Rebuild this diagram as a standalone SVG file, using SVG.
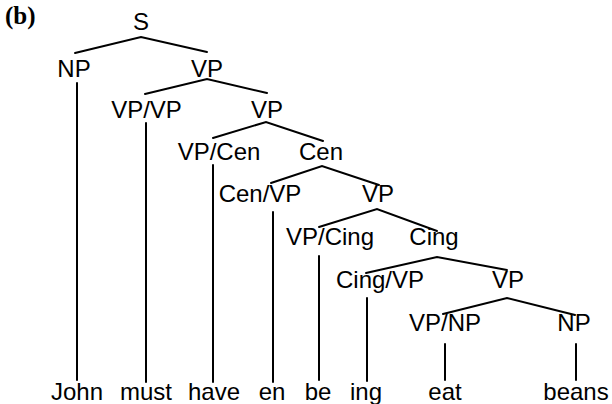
<svg xmlns="http://www.w3.org/2000/svg" width="612" height="404" viewBox="0 0 612 404">
  <style>
    .lbl { font-family: "Liberation Sans", Arial, sans-serif; font-size: 24px; fill: #000; text-anchor: middle; }
    .tag { font-family: "Liberation Serif", "Times New Roman", serif; font-size: 25px; font-weight: bold; fill: #000; }
    .edge { stroke: #000; stroke-width: 2; fill: none; stroke-linecap: round; }
  </style>
  <rect width="612" height="404" fill="#fff"/>
  <text class="tag" x="5" y="24">(b)</text>

  <!-- tree edges -->
  <g id="connectors">
    <polyline class="edge" points="75,53 141,37 207,52"/>
    <polyline class="edge" points="145,94 207,79 267,93"/>
    <polyline class="edge" points="213,138 266,122 323,141"/>
    <polyline class="edge" points="271,183 322,166 379,185"/>
    <polyline class="edge" points="319,227 377,209 437,231"/>
    <polyline class="edge" points="366,273 437,257 507,270"/>
    <polyline class="edge" points="443,314 507,298 575,315"/>
    <!-- stems down to the words -->
    <line class="edge" x1="77" y1="83" x2="77" y2="380"/>
    <line class="edge" x1="146" y1="123" x2="146" y2="382"/>
    <line class="edge" x1="213" y1="165" x2="213" y2="382"/>
    <line class="edge" x1="273" y1="212" x2="273" y2="382"/>
    <line class="edge" x1="319" y1="256" x2="319" y2="380"/>
    <line class="edge" x1="367" y1="298" x2="367" y2="381"/>
    <line class="edge" x1="445" y1="344" x2="445" y2="380"/>
    <line class="edge" x1="576" y1="344" x2="576" y2="380"/>
  </g>

  <g id="n-S"><text class="lbl" x="141" y="30">S</text></g>
  <g id="n-NP1"><text class="lbl" x="74" y="77">NP</text></g>
  <g id="n-VP1"><text class="lbl" x="207" y="77">VP</text></g>
  <g id="n-VPVP"><text class="lbl" x="146.5" y="118">VP/VP</text></g>
  <g id="n-VP2"><text class="lbl" x="267" y="118">VP</text></g>
  <g id="n-VPCen"><text class="lbl" x="219" y="160">VP/Cen</text></g>
  <g id="n-Cen"><text class="lbl" x="321" y="160">Cen</text></g>
  <g id="n-CenVP"><text class="lbl" x="260" y="202">Cen/VP</text></g>
  <g id="n-VP3"><text class="lbl" x="378" y="202">VP</text></g>
  <g id="n-VPCing"><text class="lbl" x="330" y="245">VP/Cing</text></g>
  <g id="n-Cing"><text class="lbl" x="434" y="245">Cing</text></g>
  <g id="n-CingVP"><text class="lbl" x="380" y="288">Cing/VP</text></g>
  <g id="n-VP4"><text class="lbl" x="508" y="288">VP</text></g>
  <g id="n-VPNP"><text class="lbl" x="445" y="331">VP/NP</text></g>
  <g id="n-NP2"><text class="lbl" x="574" y="331">NP</text></g>

  <g id="w-John"><text class="lbl" x="77" y="400">John</text></g>
  <g id="w-must"><text class="lbl" x="146" y="400">must</text></g>
  <g id="w-have"><text class="lbl" x="214" y="400">have</text></g>
  <g id="w-en"><text class="lbl" x="272" y="400">en</text></g>
  <g id="w-be"><text class="lbl" x="318" y="400">be</text></g>
  <g id="w-ing"><text class="lbl" x="366" y="400">ing</text></g>
  <g id="w-eat"><text class="lbl" x="445" y="400">eat</text></g>
  <g id="w-beans"><text class="lbl" x="576" y="400">beans</text></g>
</svg>
